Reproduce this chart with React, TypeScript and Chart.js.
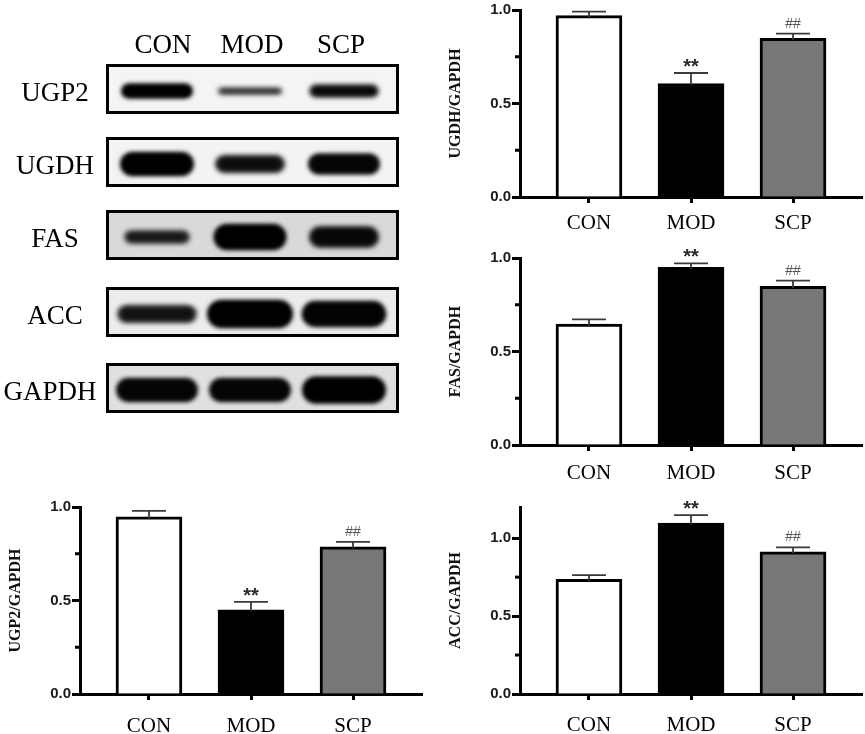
import { useEffect, useRef } from 'react'
import Chart from 'chart.js/auto'

const groups = ['CON', 'MOD', 'SCP']
const barColors = ['#ffffff', '#000000', '#777777']

const ugp2Means = [0.947, 0.45, 0.787]
const ugp2Errors = [0.032, 0.043, 0.027]
const ugp2Marks = ['', '**', '##']

const ugdhMeans = [0.97, 0.607, 0.849]
const ugdhErrors = [0.021, 0.056, 0.025]
const ugdhMarks = ['', '**', '##']

const fasMeans = [0.647, 0.95, 0.848]
const fasErrors = [0.025, 0.021, 0.031]
const fasMarks = ['', '**', '##']

const accMeans = [0.736, 1.097, 0.913]
const accErrors = [0.027, 0.051, 0.028]
const accMarks = ['', '**', '##']

const majorTicks = [0, 0.5, 1]
const minorTicks = [0.25, 0.75]

// relative band density on the blot, one value per lane
const blotProteins = ['UGP2', 'UGDH', 'FAS', 'ACC', 'GAPDH']
const ugp2Bands = [1, 0.45, 0.82]
const ugdhBands = [1, 0.72, 0.88]
const fasBands = [0.5, 1, 0.8]
const accBands = [0.62, 1, 0.92]
const gapdhBands = [0.88, 0.88, 1]
const blotBands = [ugp2Bands, ugdhBands, fasBands, accBands, gapdhBands]

const SERIF = '"Liberation Serif", "Times New Roman", serif'
const SANS = '"Liberation Sans", Arial, sans-serif'

const decorPlugin = {
  id: 'decor',
  afterDatasetsDraw(chart: any, _args: any, opts: any) {
    const { ctx, chartArea } = chart
    const y = chart.scales.y
    const meta = chart.getDatasetMeta(0)
    const values = chart.data.datasets[0].data
    ctx.save()
    ctx.strokeStyle = '#000'
    ctx.lineWidth = 3
    opts.minor.forEach((v: number) => {
      const py = y.getPixelForValue(v)
      ctx.beginPath()
      ctx.moveTo(chartArea.left - 5, py)
      ctx.lineTo(chartArea.left, py)
      ctx.stroke()
    })
    meta.data.forEach((bar: any, i: number) => {
      const top = y.getPixelForValue(values[i].y + opts.errors[i])
      ctx.strokeStyle = '#3a3a3a'
      ctx.lineWidth = 1.8
      ctx.beginPath()
      ctx.moveTo(bar.x, bar.y + 1.5)
      ctx.lineTo(bar.x, top)
      ctx.moveTo(bar.x - 17, top)
      ctx.lineTo(bar.x + 17, top)
      ctx.stroke()
      const mark = opts.marks[i]
      if (!mark) return
      ctx.textAlign = 'center'
      ctx.textBaseline = 'alphabetic'
      if (mark === '**') {
        ctx.font = `bold 20px ${SANS}`
        ctx.fillStyle = '#2a2a2a'
        ctx.fillText(mark, bar.x, top + 0)
      } else {
        ctx.font = `14px ${SANS}`
        ctx.fillStyle = '#555'
        ctx.fillText(mark, bar.x, top - 6)
      }
    })
    ctx.restore()
  },
}

interface PanelProps {
  left: number
  top: number
  title: string
  means: number[]
  errors: number[]
  marks: string[]
  yMax: number
  labelPad: number
}

function BarPanel({ left, top, title, means, errors, marks, yMax, labelPad }: PanelProps) {
  const canvasRef = useRef<HTMLCanvasElement>(null)
  const chartRef = useRef<Chart | null>(null)

  useEffect(() => {
    if (!canvasRef.current) return
    if (chartRef.current) chartRef.current.destroy()

    chartRef.current = new Chart(canvasRef.current, {
      type: 'bar',
      data: {
        datasets: [
          {
            data: means.map((v, i) => ({ x: i, y: v })),
            backgroundColor: barColors,
            borderColor: '#000',
            borderWidth: 3,
            borderSkipped: 'start',
            barThickness: 66,
          },
        ],
      },
      options: {
        responsive: true,
        maintainAspectRatio: false,
        animation: false,
        layout: { padding: { top: 9, right: 3, left: 0, bottom: 0 } },
        plugins: {
          legend: { display: false },
          tooltip: { enabled: false },
          decor: { errors, marks, minor: minorTicks },
        } as any,
        scales: {
          x: {
            type: 'linear',
            min: -0.676,
            max: 2.676,
            offset: false,
            afterBuildTicks: (scale: any) => {
              scale.ticks = groups.map((_, i) => ({ value: i }))
            },
            afterFit: (scale: any) => {
              scale.height = 40
            },
            ticks: {
              autoSkip: false,
              maxRotation: 0,
              padding: labelPad,
              color: '#000',
              font: { family: SERIF, size: 21 },
              callback: (_v: any, i: number) => groups[i],
            },
            grid: { offset: false, drawOnChartArea: false, drawTicks: true, tickLength: 6, tickWidth: 3, tickColor: '#000' },
            border: { display: true, width: 3, color: '#000' },
          },
          y: {
            min: 0,
            max: yMax,
            afterBuildTicks: (scale: any) => {
              scale.ticks = majorTicks.map((value) => ({ value }))
            },
            afterFit: (scale: any) => {
              scale.width = 90
            },
            ticks: {
              padding: 1,
              color: '#1a1a1a',
              font: { family: SANS, size: 15, weight: 'bold' },
              callback: (v: any) => Number(v).toFixed(1),
            },
            grid: { drawOnChartArea: false, drawTicks: true, tickLength: 8, tickWidth: 3, tickColor: '#000' },
            border: { display: true, width: 3, color: '#000' },
            title: {
              display: true,
              text: title,
              color: '#111',
              font: { family: SERIF, size: 16, weight: 'bold' },
              padding: { top: 16, bottom: 0 },
            },
          },
        },
      } as any,
      plugins: [decorPlugin],
    })

    return () => {
      if (chartRef.current) {
        chartRef.current.destroy()
        chartRef.current = null
      }
    }
  }, [title, means, errors, marks, yMax, labelPad])

  return (
    <div style={{ position: 'absolute', left, top, width: 435, height: 237 }}>
      <canvas ref={canvasRef} />
    </div>
  )
}

function Blot() {
  const canvasRef = useRef<HTMLCanvasElement>(null)

  useEffect(() => {
    const canvas = canvasRef.current
    if (!canvas) return
    const W = 430
    const H = 420
    const dpr = window.devicePixelRatio || 1
    canvas.width = W * dpr
    canvas.height = H * dpr
    const ctx = canvas.getContext('2d')
    if (!ctx) return
    ctx.setTransform(dpr, 0, 0, dpr, 0, 0)
    ctx.clearRect(0, 0, W, H)

    const headerX = [163, 252, 341]
    const laneX = [157, 250, 344]
    const boxTops = [64, 137, 210, 287, 363]
    const boxFill = ['#f4f4f4', '#f3f3f3', '#d9d9d9', '#ececec', '#e0e0e0']
    const baseH = [15, 24, 26, 28, 27]
    const baseW = [72, 74, 73, 86, 84]

    ctx.fillStyle = '#000'
    ctx.font = `27px ${SERIF}`
    ctx.textAlign = 'center'
    ctx.textBaseline = 'alphabetic'
    groups.forEach((g, i) => ctx.fillText(g, headerX[i], 53))

    blotProteins.forEach((name, r) => {
      const bt = boxTops[r]
      const cy = bt + 25
      ctx.fillStyle = '#000'
      ctx.font = `27px ${SERIF}`
      ctx.fillText(name, r === 4 ? 50 : 55, cy + 12)

      ctx.fillStyle = boxFill[r]
      ctx.fillRect(106, bt, 293, 50)

      blotBands[r].forEach((d, i) => {
        const h = baseH[r] * d
        const w = baseW[r] * (0.8 + 0.2 * d)
        ctx.save()
        ctx.filter = `blur(${2.2 + (1 - d) * 1.2}px)`
        ctx.fillStyle = `rgba(0,0,0,${0.6 + 0.4 * d})`
        ctx.beginPath()
        ctx.roundRect(laneX[i] - w / 2, cy + 2 - h / 2, w, h, h / 2)
        ctx.fill()
        ctx.globalAlpha = 0.6
        ctx.beginPath()
        ctx.roundRect(laneX[i] - w / 2 + 4, cy + 2 - h / 2 + 2, w - 8, Math.max(h - 4, 2), h / 2)
        ctx.fill()
        ctx.restore()
      })

      ctx.strokeStyle = '#000'
      ctx.lineWidth = 3
      ctx.strokeRect(107.5, bt + 1.5, 290, 47)
    })
  }, [])

  return (
    <canvas
      ref={canvasRef}
      style={{ position: 'absolute', left: 0, top: 0, width: 430, height: 420 }}
    />
  )
}

export default function App() {
  return (
    <div
      style={{
        position: 'absolute',
        left: 0,
        top: 0,
        width: 865,
        height: 734,
        background: '#fff',
        overflow: 'hidden',
      }}
    >
      <Blot />
      <BarPanel left={430} top={0} title="UGDH/GAPDH" means={ugdhMeans} errors={ugdhErrors} marks={ugdhMarks} yMax={1} labelPad={8} />
      <BarPanel left={430} top={248} title="FAS/GAPDH" means={fasMeans} errors={fasErrors} marks={fasMarks} yMax={1} labelPad={10} />
      <BarPanel left={-10} top={497} title="UGP2/GAPDH" means={ugp2Means} errors={ugp2Errors} marks={ugp2Marks} yMax={1} labelPad={14} />
      <BarPanel left={430} top={497} title="ACC/GAPDH" means={accMeans} errors={accErrors} marks={accMarks} yMax={1.2} labelPad={13} />
    </div>
  )
}
